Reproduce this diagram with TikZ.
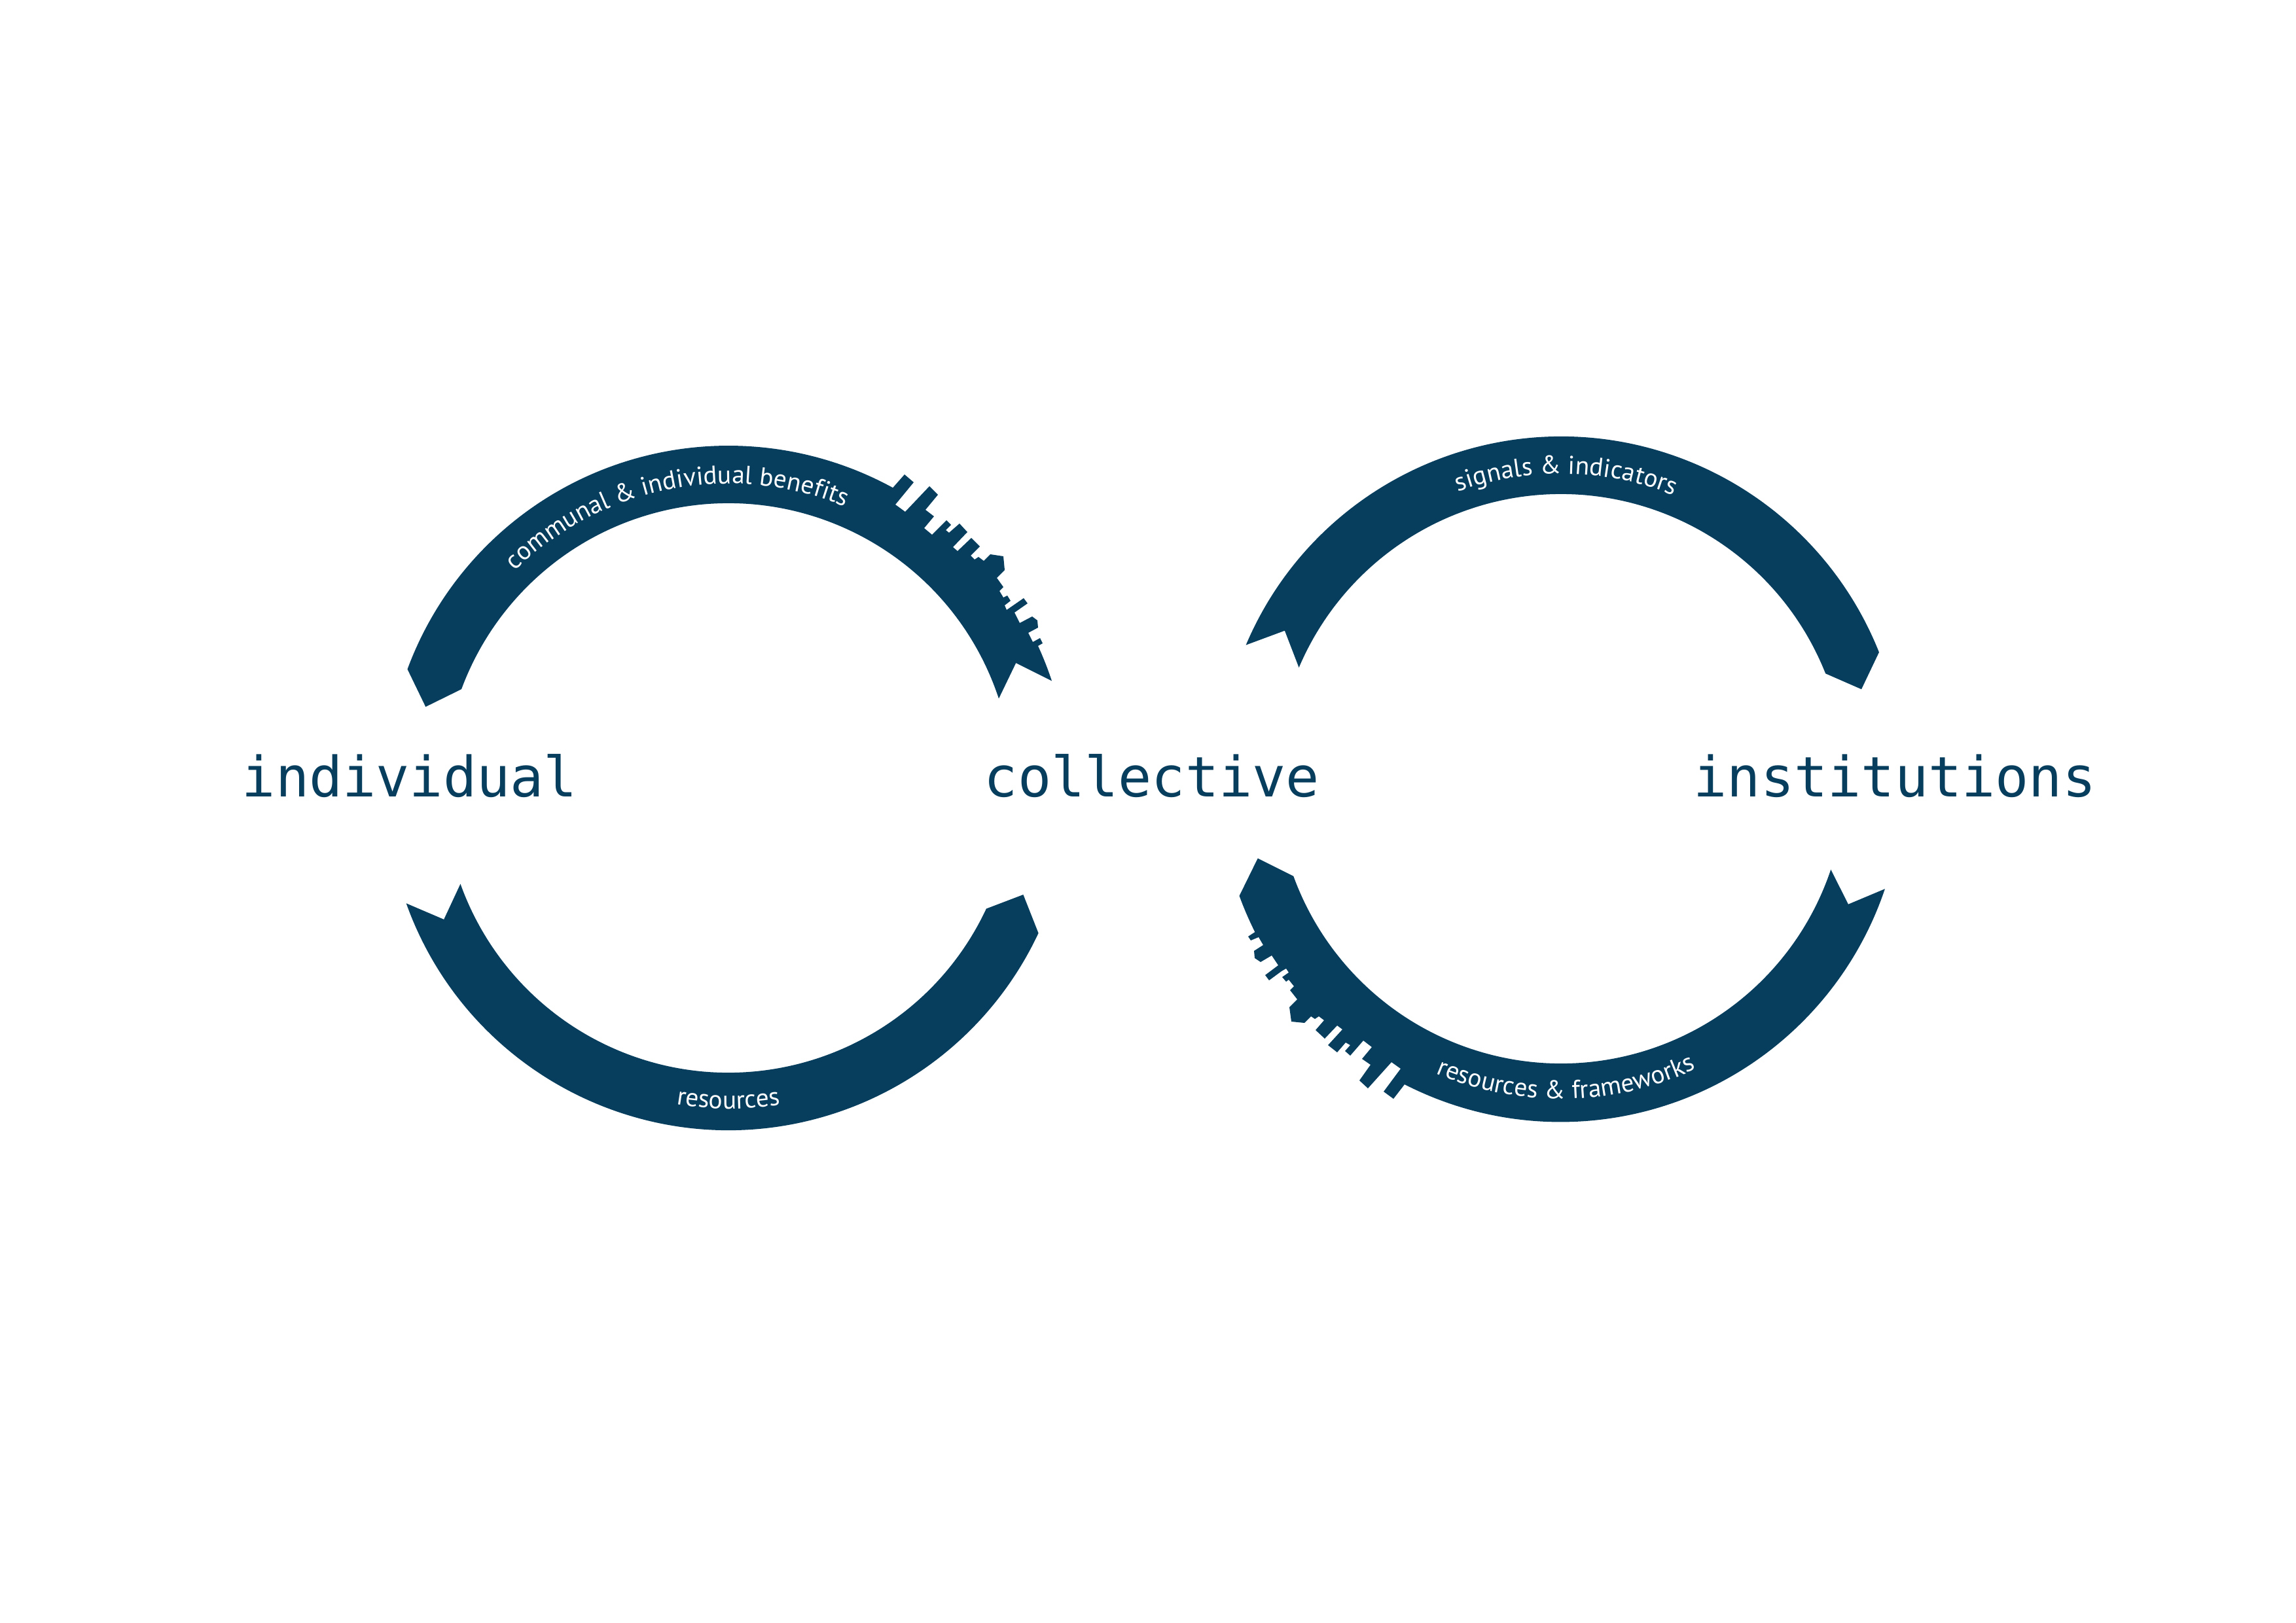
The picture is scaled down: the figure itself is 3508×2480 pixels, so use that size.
\documentclass[tikz,border=0pt]{standalone}
\usepackage{fontspec}
\usetikzlibrary{calc,decorations.text}
\newfontfamily\termfont{DejaVu Sans Mono}
\newfontfamily\bandfont{PT Sans}
\definecolor{deepblue}{RGB}{7,62,94}

\begin{document}
\begin{tikzpicture}
[x=0.08466mm, y=0.08466mm,
band/.style={fill=deepblue, draw=none},
term/.style={font=\termfont\fontsize{20.5}{24}\selectfont, text=deepblue, anchor=base, inner sep=0pt},
bandtext/.style={decorate, decoration={text along path, text align=center, text={|\bandfont\fontsize{9.5}{11}\selectfont\color{white}|#1}}}
]
\useasboundingbox (0,0) rectangle (3508,-2480);

\coordinate (c1) at (1113,-1204);
\coordinate (c2) at (2385,-1190);

\node[term] (individual) at (626,-1217){individual};
\node[term] (collective) at (1760,-1217){collective};
\node[term] (institutions) at (2895,-1217){institutions};

% benefits: collective -> individual
\fill[band] ($(c1)+(165:479)$) -- ($(c1)+(159.7:523)$) arc[start angle=159.7, end angle=61.3, radius=523]
 -- (1382,-725) -- (1396,-737) -- (1368,-771) -- (1383,-782) -- (1420,-743) -- (1433,-756) -- (1414,-779) -- (1427,-789)
 -- (1412,-807) -- (1424,-817) -- (1446,-795) -- (1453,-802) -- (1445,-810) -- (1450,-814) -- (1466,-800) -- (1478,-813)
 -- (1456,-836) -- (1463,-842) -- (1484,-822) -- (1497,-835) -- (1483,-849) -- (1489,-855) -- (1495,-851) -- (1503,-857)
 -- (1513,-847) -- (1533,-850) -- (1535,-871) -- (1523,-883) -- (1533,-897) -- (1527,-903) -- (1533,-913) -- (1539,-910)
 -- (1544,-918) -- (1535,-925) -- (1538,-932) -- (1564,-914) -- (1570,-922) -- (1550,-936) -- (1558,-952) -- (1577,-942)
 -- (1585,-948) -- (1586,-959) -- (1571,-967) -- (1578,-981) -- (1589,-975) -- (1593,-983) -- (1586,-987)
 arc[start angle=24.6, end angle=18.3, radius=522] -- ($(c1)+(23.5:479)$) -- ($(c1)+(18.3:435)$)
 arc[start angle=18.3, end angle=159.7, radius=435] -- cycle;

% resources: individual -> collective
\fill[band] ($(c1)+(199.7:523)$) arc[start angle=199.7, end angle=334.9, radius=523] -- ($(c1)+(340.1:479)$)
 -- ($(c1)+(334.9:435)$) arc[start angle=334.9, end angle=199.7, radius=435] -- ($(c1)+(204.8:479)$) -- cycle;

% signals: collective -> institutions
\fill[band] ($(c2)+(157:523)$) arc[start angle=157, end angle=21.7, radius=523] -- ($(c2)+(16.6:479)$)
 -- ($(c2)+(21.7:435)$) arc[start angle=21.7, end angle=157, radius=435] -- ($(c2)+(151.8:479)$) -- cycle;

% frameworks: institutions -> collective
\fill[band] ($(c2)+(194.7:479)$) -- ($(c2)+(200:523)$) arc[start angle=200, end angle=206.6, radius=523]
 -- (1907,-1431) -- (1911,-1437) -- (1923,-1432) -- (1930,-1444) -- (1916,-1453) -- (1917,-1464) -- (1926,-1470) -- (1943,-1460)
 -- (1953,-1475) -- (1933,-1490) -- (1939,-1498) -- (1958,-1484) -- (1965,-1480) -- (1969,-1486) -- (1959,-1493) -- (1965,-1500)
 -- (1969,-1497) -- (1977,-1507) -- (1971,-1513) -- (1982,-1527) -- (1970,-1539) -- (1973,-1561) -- (1993,-1563) -- (2003,-1553)
 -- (2009,-1557) -- (2015,-1553) -- (2023,-1559) -- (2010,-1574) -- (2024,-1587) -- (2043,-1567) -- (2051,-1573) -- (2029,-1597)
 -- (2043,-1608) -- (2056,-1593) -- (2063,-1597) -- (2055,-1606) -- (2063,-1613) -- (2083,-1590) -- (2096,-1600) -- (2081,-1618)
 -- (2094,-1627) -- (2077,-1651) -- (2090,-1663) -- (2126,-1623) -- (2140,-1633) -- (2114,-1668) -- (2129,-1679) -- (2146,-1657)
 arc[start angle=242.9, end angle=341.4, radius=523] -- ($(c2)+(336.4:479)$) -- ($(c2)+(341.4:435)$)
 arc[start angle=341.4, end angle=200, radius=435] -- cycle;

\path[bandtext={communal {\&} individual benefits}] ($(c1)+(160:465)$) arc[start angle=160, end angle=42, radius=465];
\path[bandtext={resources}] ($(c1)+(205:490)$) arc[start angle=205, end angle=335, radius=490];
\path[bandtext={signals {\&} indicators}] ($(c2)+(150:466)$) arc[start angle=150, end angle=28, radius=466];
\path[bandtext={resources {\&} frameworks}] ($(c2)+(210:489)$) arc[start angle=210, end angle=332, radius=489];
\end{tikzpicture}
\end{document}
